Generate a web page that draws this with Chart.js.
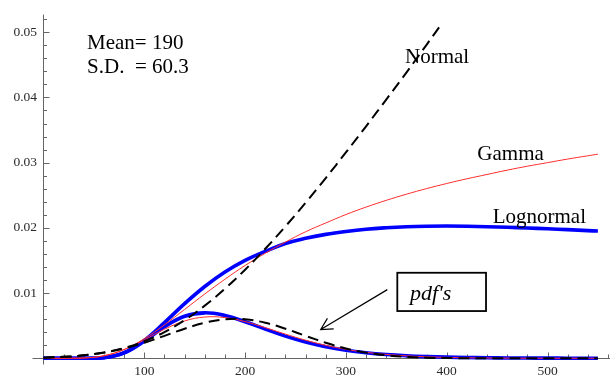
<!DOCTYPE html>
<html><head><meta charset="utf-8">
<script src="https://cdn.jsdelivr.net/npm/chart.js@4/dist/chart.umd.min.js"></script>
<style>html,body{margin:0;padding:0;background:#fff;}canvas{display:block;}</style>
</head><body>
<canvas id="c" width="613" height="379"></canvas>
<script>
// ---- data ----
const xValues = [0,20,40,60,80,100,120,140,160,180,200,220,240,260,280,300,320,340,360,380,400,420,440,460,480,500,520,540,550];

const normalPdf = [0.0000959,0.000219,0.000457,0.000869,0.001508,0.002385,0.003444,0.004536,0.005452,0.005976,0.005976,0.005452,0.004536,0.003444,0.002385,0.001508,0.000869,0.000457,0.000219,0.0000959,0.0000383,0.0000139,0.0000046,0.0000013,0.0000003,0,0,0,0];
const gammaPdf = [0,0.0000007,0.0000487,0.00039,0.001328,0.002822,0.004451,0.005723,0.00633,0.006242,0.005626,0.004706,0.003708,0.002778,0.001992,0.001376,0.00092,0.000598,0.000379,0.000235,0.000143,0.0000852,0.0000501,0.000029,0.0000165,0.0000093,0.0000052,0.0000029,0.0000021];
const lognormalPdf = [0,0,0.0000015,0.0001014,0.0008413,0.002634,0.004837,0.00644,0.006972,0.006566,0.005614,0.004479,0.0034,0.002488,0.001772,0.001237,0.0008513,0.0005796,0.0003916,0.0002632,0.0001764,0.0001179,0.0000788,0.0000527,0.0000352,0.0000236,0.0000158,0.0000107,0.0000087];

const normalHazardX = [0,20,40,60,80,100,120,140,160,180,200,220,240,260,280,300,320,340,360,380,396];
const normalHazard = [0.0000961,0.00022,0.000462,0.00089,0.001583,0.00261,0.004025,0.005848,0.008073,0.010668,0.013588,0.016791,0.020223,0.02385,0.02764,0.03157,0.03557,0.03967,0.0438,0.04807,0.0515];
const gammaHazard = [0,0.0000007,0.0000487,0.000392,0.001355,0.003005,0.005138,0.007495,0.009863,0.01212,0.014233,0.016109,0.017818,0.019404,0.020746,0.022044,0.023185,0.024219,0.025159,0.026017,0.026802,0.027522,0.028186,0.02885,0.02945,0.03,0.03055,0.03105,0.0313];
const lognormalHazard = [0,0,0.0000015,0.0001015,0.000848,0.002748,0.005475,0.008373,0.011011,0.013223,0.015002,0.016394,0.0176,0.0184,0.019,0.01945,0.0198,0.02002,0.02017,0.02025,0.02028,0.02025,0.02018,0.02009,0.01998,0.01986,0.01973,0.01958,0.01951];

const xTickValues = [100,200,300,400,500];
const yTickValues = [0.01,0.02,0.03,0.04,0.05];
const statsLines = ['Mean= 190','S.D.  = 60.3'];
const curveLabels = ['Normal','Gamma','Lognormal'];
const boxLabel = "pdf's";

// ---- build datasets ----
const pts = (xs, ys) => ys.map((v, i) => ({x: xs[i], y: v}));
const SERIF = "'Liberation Serif', 'Times New Roman', serif";

const base = {showLine: true, pointRadius: 0, pointHoverRadius: 0, tension: 0.4, clip: 8, fill: false};
const datasets = [
  Object.assign({}, base, {label:'Normal pdf', data: pts(xValues, normalPdf), borderColor:'#000', borderWidth:2, borderDash:[11,6], order:1}),
  Object.assign({}, base, {label:'Normal hazard', data: pts(normalHazardX, normalHazard), borderColor:'#000', borderWidth:2, borderDash:[11,6], order:1}),
  Object.assign({}, base, {label:'Gamma pdf', data: pts(xValues, gammaPdf), borderColor:'rgb(255,45,45)', borderWidth:1, order:2}),
  Object.assign({}, base, {label:'Gamma hazard', data: pts(xValues, gammaHazard), borderColor:'rgb(255,45,45)', borderWidth:1, order:2}),
  Object.assign({}, base, {label:'Lognormal pdf', data: pts(xValues, lognormalPdf), borderColor:'rgb(0,0,255)', borderWidth:3.6, order:3}),
  Object.assign({}, base, {label:'Lognormal hazard', data: pts(xValues, lognormalHazard), borderColor:'rgb(0,0,255)', borderWidth:3.6, order:3})
];

const overlay = {
  id: 'overlay',
  beforeDatasetsDraw(chart) {
    const {ctx, scales: {x, y}} = chart;
    ctx.save();
    ctx.strokeStyle = '#666';
    ctx.lineWidth = 1;
    const ay = Math.floor(y.getPixelForValue(0)) + 0.5;
    const ax = Math.floor(x.getPixelForValue(0)) + 0.5;
    ctx.beginPath();
    ctx.moveTo(ax - 11, ay); ctx.lineTo(x.getPixelForValue(x.max), ay);
    ctx.moveTo(ax, y.getPixelForValue(y.max)); ctx.lineTo(ax, ay + 6);
    for (let v = 20; v <= 560; v += 20) {
      const px = Math.round(x.getPixelForValue(v)) + 0.5;
      const len = v % 100 === 0 ? 6 : 4;
      ctx.moveTo(px, ay); ctx.lineTo(px, ay - len);
    }
    for (let k = 1; k <= 26; k++) {
      const py = Math.round(y.getPixelForValue(k * 0.002)) + 0.5;
      const len = k % 5 === 0 ? 6 : 3.5;
      ctx.moveTo(ax, py); ctx.lineTo(ax + len, py);
    }
    ctx.stroke();
    ctx.restore();
  },
  afterDatasetsDraw(chart) {
    const {ctx, scales: {x, y}} = chart;
    const X = v => x.getPixelForValue(v), Y = v => y.getPixelForValue(v);
    ctx.save();
    ctx.fillStyle = '#000';
    ctx.textBaseline = 'alphabetic';
    ctx.textAlign = 'left';
    ctx.font = '21px ' + SERIF;
    ctx.fillText(statsLines[0], X(43.2), Y(0.04737));
    ctx.fillText(statsLines[1], X(43.2), Y(0.04374));
    ctx.fillText(curveLabels[0], X(358.6), Y(0.04534));
    ctx.fillText(curveLabels[1], X(430.4), Y(0.03045));
    ctx.fillText(curveLabels[2], X(445.6), Y(0.02074));
    // box
    ctx.strokeStyle = '#000';
    ctx.lineWidth = 1.8;
    const bx1 = X(351.0), bx2 = X(439.0), by1 = Y(0.013116), by2 = Y(0.007245);
    ctx.strokeRect(bx1, by1, bx2 - bx1, by2 - by1);
    ctx.font = 'italic 22px ' + SERIF;
    ctx.fillText(boxLabel, X(363.6), Y(0.00889));
    // arrow
    const tx = X(275.0), ty = Y(0.004407), sx = X(341.1), sy = Y(0.01053);
    ctx.lineWidth = 1.2;
    ctx.beginPath();
    ctx.moveTo(sx, sy); ctx.lineTo(tx, ty);
    const ang = Math.atan2(sy - ty, sx - tx), L = 13, h = 28 * Math.PI / 180;
    ctx.moveTo(tx + L * Math.cos(ang + h), ty + L * Math.sin(ang + h));
    ctx.lineTo(tx, ty);
    ctx.lineTo(tx + L * Math.cos(ang - h), ty + L * Math.sin(ang - h));
    ctx.stroke();
    ctx.restore();
  }
};

new Chart(document.getElementById('c'), {
  type: 'scatter',
  data: {datasets},
  options: {
    responsive: false,
    animation: false,
    devicePixelRatio: 1,
    layout: {padding: {left: 0, right: 3, top: 5, bottom: 0}},
    plugins: {legend: {display: false}, tooltip: {enabled: false}},
    scales: {
      x: {
        type: 'linear', min: 0, max: 562,
        grid: {display: false, drawTicks: false},
        border: {display: false},
        afterFit: s => { s.height = 20.7; },
        afterBuildTicks: s => { s.ticks = xTickValues.map(v => ({value: v})); },
        ticks: {autoSkip: false, maxRotation: 0, padding: 5.5, color: '#2a2a2a',
          font: {family: SERIF, size: 13.5}, callback: v => String(v)}
      },
      y: {
        type: 'linear', min: 0, max: 0.0527,
        grid: {display: false, drawTicks: false},
        border: {display: false},
        afterFit: s => { s.width = 43.5; },
        afterBuildTicks: s => { s.ticks = yTickValues.map(v => ({value: v})); },
        ticks: {autoSkip: false, padding: 6.5, color: '#2a2a2a',
          font: {family: SERIF, size: 13.5}, callback: v => v.toFixed(2)}
      }
    }
  },
  plugins: [overlay]
});
</script>
</body></html>
